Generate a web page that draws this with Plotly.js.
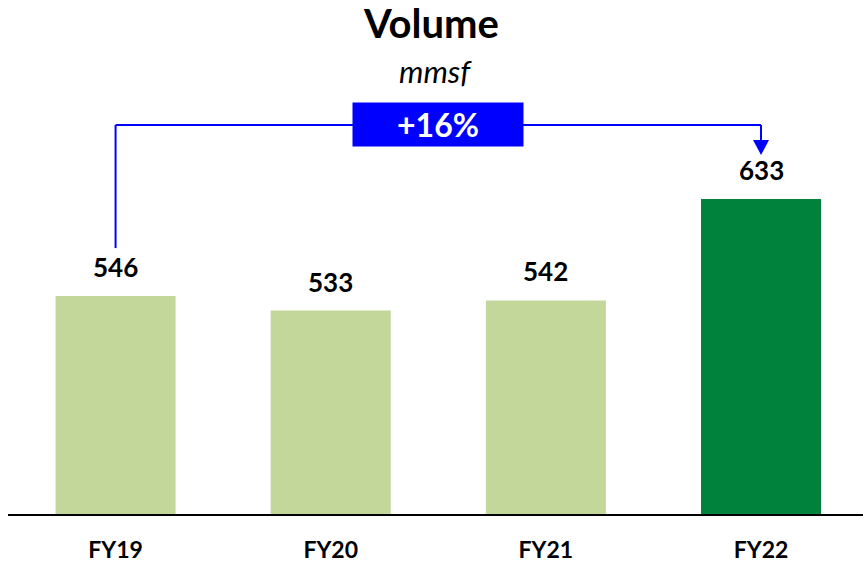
<!DOCTYPE html>
<html>
<head>
<meta charset="utf-8">
<script src="https://cdn.plot.ly/plotly-3.0.1.min.js"></script>
<style>html,body{margin:0;padding:0;background:#fff;}#chart{width:863px;height:566px;}</style>
</head>
<body>
<div id="chart"></div>
<script>
const categories = ["FY19", "FY20", "FY21", "FY22"];
const volumes = [546, 533, 542, 633];
const barColors = ["#C4D79B", "#C4D79B", "#C4D79B", "#00823C"];
const chartTitle = "Volume";
const unitLabel = "mmsf";

const FONT = "Lato, 'Open Sans', sans-serif";
const first = volumes[0], last = volumes[volumes.length - 1];
const growth = Math.round((last / first - 1) * 100);
const growthText = (growth >= 0 ? "+" : "") + growth + "%";

const yMin = 350.5, yMax = 811.5;
const bracketY = 699.4;
const leftStart = first + 43;
const arrowTip = last + 39.5;

const trace = {
  type: "bar",
  x: categories,
  y: volumes,
  marker: {color: barColors, line: {width: 0}},
  hoverinfo: "skip"
};

const annotations = categories.map((c, i) => ({
  x: c, y: volumes[i], xref: "x", yref: "y",
  text: "<b>" + volumes[i] + "</b>",
  showarrow: false, yanchor: "middle", yshift: 29,
  font: {family: FONT, size: 26, color: "#000"}
}));
annotations.push({
  x: 0.5, y: (514 - 71) / 514, xref: "paper", yref: "paper",
  text: "<i>" + unitLabel + "</i>", showarrow: false,
  font: {family: FONT, size: 31, color: "#000"}, yanchor: "middle"
});
annotations.push({
  x: 1.5, y: bracketY, xref: "x", yref: "y",
  text: "<b>" + growthText + "</b>", showarrow: false,
  bgcolor: "#0000FF", width: 170, height: 43, borderpad: 0,
  font: {family: FONT, size: 32, color: "#fff"}, yanchor: "middle", xanchor: "center"
});

const blue = "#0000FF";
const shapes = [
  {type: "line", xref: "x", yref: "y", x0: 0, x1: 0, y0: leftStart, y1: bracketY, line: {color: blue, width: 2}},
  {type: "line", xref: "x", yref: "y", x0: 0, x1: 3, y0: bracketY, y1: bracketY, line: {color: blue, width: 2}},
  {type: "line", xref: "x", yref: "y", x0: 3, x1: 3, y0: bracketY, y1: arrowTip + 12, line: {color: blue, width: 2}},
  {type: "path", xref: "x", yref: "y", xsizemode: "pixel", ysizemode: "pixel", xanchor: 3, yanchor: arrowTip,
   path: "M -8,15 L 8,15 L 0,0 Z", fillcolor: blue, line: {width: 0}}
];

const layout = {
  width: 863, height: 566,
  margin: {l: 8, r: 0, t: 0, b: 52, pad: 0},
  paper_bgcolor: "#fff", plot_bgcolor: "#fff",
  title: {text: "<b>" + chartTitle + "</b>", font: {family: FONT, size: 40, color: "#000"},
          x: 0.5, xanchor: "center", y: 1 - 24 / 566, yanchor: "middle", yref: "container"},
  bargap: 0.442,
  showlegend: false,
  xaxis: {
    type: "category", range: [-0.5, 3.474], fixedrange: true,
    showline: true, linecolor: "#000", linewidth: 2, showgrid: false, zeroline: false,
    ticks: "", ticklabelstandoff: 14,
    tickfont: {family: FONT, size: 23, color: "#000", weight: "bold"}
  },
  yaxis: {range: [yMin, yMax], visible: false, showgrid: false, zeroline: false, fixedrange: true},
  annotations: annotations,
  shapes: shapes
};

Plotly.newPlot("chart", [trace], layout, {displayModeBar: false, staticPlot: true});
</script>
</body>
</html>
